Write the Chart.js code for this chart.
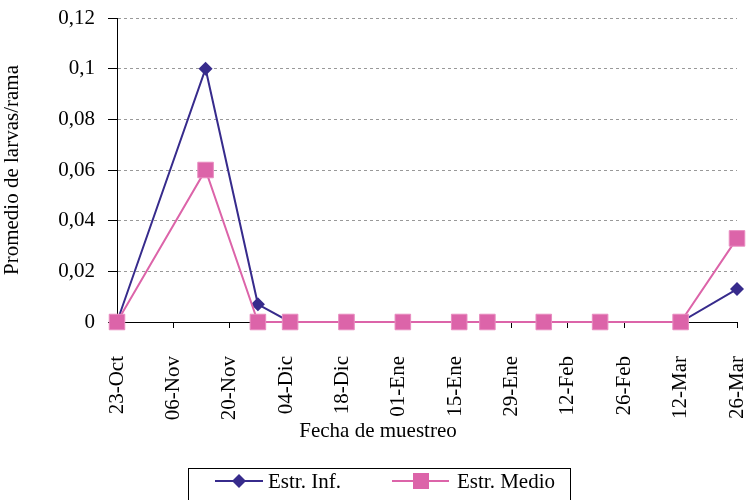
<!DOCTYPE html>
<html>
<head>
<meta charset="utf-8">
<script src="https://cdn.jsdelivr.net/npm/chart.js@4.4.1/dist/chart.umd.min.js"></script>
<style>
  html, body { margin:0; padding:0; background:#fff; overflow:hidden; }
  #wrap { position:relative; width:749px; height:500px; font-family:"Liberation Serif","Times New Roman",serif; font-size:21px; color:#000; }
  #tituloX { position:absolute; left:0; width:756px; top:417px; height:26px; line-height:26px; text-align:center; }
  #leyenda { position:absolute; left:188px; top:468px; width:383px; height:40px; border:1px solid #000; box-sizing:border-box; }
  #leyenda .item { position:absolute; top:0; height:24px; line-height:24px; white-space:nowrap; }
  #leyenda svg { position:absolute; top:0; }
</style>
</head>
<body>
<div id="wrap">
  <canvas id="grafico" width="749" height="500"></canvas>
  <div id="tituloX">Fecha de muestreo</div>
  <div id="leyenda">
    <svg style="left:26px" width="50" height="24"><line x1="0" y1="12" x2="48" y2="12" stroke="#372b8c" stroke-width="2"/><polygon points="24,5 31,12 24,19 17,12" fill="#372b8c"/></svg>
    <span class="item" style="left:79px">Estr. Inf.</span>
    <svg style="left:203px" width="60" height="24"><line x1="0" y1="12" x2="57" y2="12" stroke="#dc64a9" stroke-width="2"/><rect x="21" y="4" width="16" height="16" fill="#dc64a9"/></svg>
    <span class="item" style="left:268px">Estr. Medio</span>
  </div>
</div>
<script>
// fechas de muestreo
const fechas = ['2006-10-23','2006-11-14','2006-11-27','2006-12-05','2006-12-19','2007-01-02','2007-01-16','2007-01-23','2007-02-06','2007-02-20','2007-03-12','2007-03-26'];
const estrInf   = [0, 0.1, 0.007, 0, 0, 0, 0, 0, 0, 0, 0, 0.013];
const estrMedio = [0, 0.06, 0, 0, 0, 0, 0, 0, 0, 0, 0, 0.033];
// etiquetas del eje x (cada 14 dias)
const etiquetas = ['23-Oct','06-Nov','20-Nov','04-Dic','18-Dic','01-Ene','15-Ene','29-Ene','12-Feb','26-Feb','12-Mar','26-Mar'];

const inicio = Date.parse(fechas[0]);
const dias = fechas.map(f => Math.round((Date.parse(f) - inicio) / 86400000));
const fuente = { family: '"Liberation Serif", "Times New Roman", serif', size: 21 };

const ctx = document.getElementById('grafico');
new Chart(ctx, {
  type: 'line',
  data: {
    datasets: [
      { label:'Estr. Inf.', data: dias.map((d,i) => ({x:d, y:estrInf[i]})), borderColor:'#372b8c', backgroundColor:'#372b8c',
        borderWidth:2, pointStyle:'rectRot', pointRadius:7, pointHoverRadius:7, pointBorderWidth:0, tension:0, clip:false, order:2 },
      { label:'Estr. Medio', data: dias.map((d,i) => ({x:d, y:estrMedio[i]})), borderColor:'#dc64a9', backgroundColor:'#dc64a9',
        pointBorderColor:'#e88cc0', borderWidth:2, pointStyle:'rect', pointRadius:11, pointHoverRadius:11, pointBorderWidth:1, tension:0, clip:false, order:1 }
    ]
  },
  options: {
    responsive:false, animation:false,
    layout:{ padding:{ left:0, right:8, top:18, bottom:57 } },
    plugins:{ legend:{ display:false }, tooltip:{ enabled:false } },
    scales:{
      x:{
        type:'linear', min:0, max:154,
        border:{ color:'#000', width:1 },
        grid:{ drawOnChartArea:false, drawTicks:true, tickLength:6, tickColor:'#000' },
        ticks:{ stepSize:14, autoSkip:false, maxRotation:90, minRotation:90, padding:28, color:'#000', font:fuente,
                callback:(v) => etiquetas[Math.round(v / 14)] },
        afterFit:(s) => { s.height = 121; s.paddingLeft = 0; s.paddingRight = 0; }
      },
      y:{
        min:0, max:0.12,
        border:{ color:'#000', width:1, dash:[3,3] },
        grid:{ color:(c) => c.tick && c.tick.value === 0 ? 'transparent' : '#999', tickLength:9, tickColor:'#000', tickBorderDash:[] },
        ticks:{ stepSize:0.02, padding:13, color:'#000', font:fuente,
                callback:(v) => String(parseFloat(v.toFixed(2))).replace('.', ',') },
        title:{ display:true, text:'Promedio de larvas/rama', color:'#000', font:fuente, padding:{ top:0, bottom:0 } },
        afterFit:(s) => { s.width = 117; s.paddingTop = 0; s.paddingBottom = 0; }
      }
    }
  }
});
</script>
</body>
</html>
